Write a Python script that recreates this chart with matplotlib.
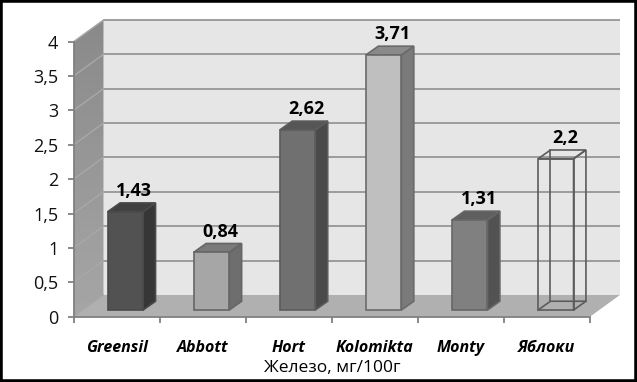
#plot.py

import numpy as np
import matplotlib
matplotlib.use("Agg")
import matplotlib.pyplot as plt
from matplotlib.patches import Polygon, Rectangle

plt.rcParams['font.family'] = ['Open Sans', 'DejaVu Sans']

# data
categories = ['Greensil', 'Abbott', 'Hort', 'Kolomikta', 'Monty', 'Яблоки']
values = [1.43, 0.84, 2.62, 3.71, 1.31, 2.2]
y_ticks = [0, 0.5, 1, 1.5, 2, 2.5, 3, 3.5, 4]
y_tick_labels = ['0', '0,5', '1', '1,5', '2', '2,5', '3', '3,5', '4']
x_title = 'Железо, мг/100г'

# colours per bar: front, side, top
bar_front = ['#525252', '#a6a6a6', '#707070', '#bfbfbf', '#808080', 'none']
bar_side = ['#363636', '#6e6e6e', '#4a4a4a', '#7a7a7a', '#525252', 'none']
bar_top = ['#404040', '#7a7a7a', '#565656', '#8a8a8a', '#5f5f5f', 'none']
bar_edge = ['#4a4a4a', '#666666', '#5c5c5c', '#6a6a6a', '#666666', '#5c5c5c']

# fake 3d depth, in data units
wall_dx, wall_dy = 0.348, 0.316
bar_off, bar_w = 0.397, 0.412
bar_dx, bar_dy = 0.144, 0.128
bar_base = 0.097

W, H = 637, 382
fig = plt.figure(figsize=(W / 100, H / 100), dpi=100, facecolor='white')
ax = fig.add_axes([73.5 / W, (H - 316.7) / H, (590 - 73.5) / W, 275 / H])
ax.patch.set_alpha(0)
n = len(categories)

# back wall and floor
ymax = y_ticks[-1]
ax.add_patch(Polygon([(wall_dx, wall_dy), (n + wall_dx, wall_dy),
                      (n + wall_dx, ymax + wall_dy), (wall_dx, ymax + wall_dy)],
                     fc='#e6e6e6', ec='none', clip_on=False, zorder=1))
ax.add_patch(Polygon([(0, 0), (n, 0), (n + wall_dx, wall_dy), (wall_dx, wall_dy)],
                     fc='#b0b0b0', ec='none', clip_on=False, zorder=1))

# side wall with a soft gradient
side = Polygon([(0, 0), (wall_dx, wall_dy), (wall_dx, ymax + wall_dy), (0, ymax)],
               fc='none', ec='none', clip_on=False)
ax.add_patch(side)
grad = np.linspace(0, 1, 64).reshape(-1, 1)
im = ax.imshow(grad, extent=(0, wall_dx, 0, ymax + wall_dy), origin='upper', aspect='auto',
               cmap='gray', vmin=-4.9, vmax=4.19, zorder=1)
im.set_clip_box(fig.bbox)
im.set_clip_path(side)
ax.set_xlim(0, n)
ax.set_ylim(0, 4)

# gridlines on the walls
for v in y_ticks:
    if v > 0:
        ax.plot([wall_dx, n + wall_dx], [v + wall_dy, v + wall_dy], color='#969696', lw=1.3,
                clip_on=False, zorder=2, solid_capstyle='butt')
    ax.plot([0, wall_dx], [v, v + wall_dy], color='#a8a8a8', lw=1.0, clip_on=False, zorder=2)

# bars
for i, v in enumerate(values):
    x0 = i + bar_off
    x1 = x0 + bar_w
    y0 = bar_base
    y1 = bar_base + v
    lw = 1.2
    if bar_front[i] == 'none':
        # wire frame one, back lines show through
        ax.plot([x0 + bar_dx, x0 + bar_dx], [y0 + bar_dy, y1 + bar_dy], color=bar_edge[i], lw=lw, zorder=3, clip_on=False)
        ax.plot([x0, x0 + bar_dx, x1 + bar_dx], [y0, y0 + bar_dy, y0 + bar_dy], color=bar_edge[i], lw=lw, zorder=3, clip_on=False)
    ax.add_patch(Polygon([(x1, y0), (x1 + bar_dx, y0 + bar_dy), (x1 + bar_dx, y1 + bar_dy), (x1, y1)],
                         fc=bar_side[i], ec=bar_edge[i], lw=lw, clip_on=False, zorder=4))
    ax.add_patch(Polygon([(x0, y1), (x0 + bar_dx, y1 + bar_dy), (x1 + bar_dx, y1 + bar_dy), (x1, y1)],
                         fc=bar_top[i], ec=bar_edge[i], lw=lw, clip_on=False, zorder=4))
    ax.add_patch(Rectangle((x0, y0), bar_w, v, fc=bar_front[i], ec=bar_edge[i], lw=lw,
                           clip_on=False, zorder=5))
    ax.annotate(str(v).replace('.', ','), (x0 + (bar_w + bar_dx) / 2, y1 + bar_dy),
                xytext=(2, 8.5), textcoords='offset points', ha='center', va='center',
                fontsize=13, fontweight='bold', color='black', zorder=6, annotation_clip=False)

# axes
for s in ['top', 'right']:
    ax.spines[s].set_visible(False)
for s in ['left', 'bottom']:
    ax.spines[s].set_color('#808080')
    ax.spines[s].set_linewidth(1.3)
    ax.spines[s].set_zorder(2.5)
ax.set_yticks(y_ticks)
ax.set_yticklabels(y_tick_labels, fontsize=13, color='#111111')
ax.tick_params(axis='y', length=4, width=1.3, color='#808080', pad=7)
ax.set_xticks(np.arange(n + 1))
ax.set_xticklabels([])
ax.tick_params(axis='x', which='major', length=4, width=1.3, color='#808080')
ax.set_xticks(np.arange(n) + 0.5, minor=True)
ax.set_xticklabels(categories, minor=True, fontsize=11.5, fontweight='bold', fontstyle='italic')
ax.tick_params(axis='x', which='minor', length=0, pad=17)
ax.set_xlabel(x_title, fontsize=12.5, fontweight='medium', labelpad=3)

# black frame of the picture
fig.add_artist(Rectangle((0, 0), 1, 1, transform=fig.transFigure, fc='none', ec='black', lw=4, clip_on=True))

fig.savefig('out.png', dpi=100, facecolor='white')
